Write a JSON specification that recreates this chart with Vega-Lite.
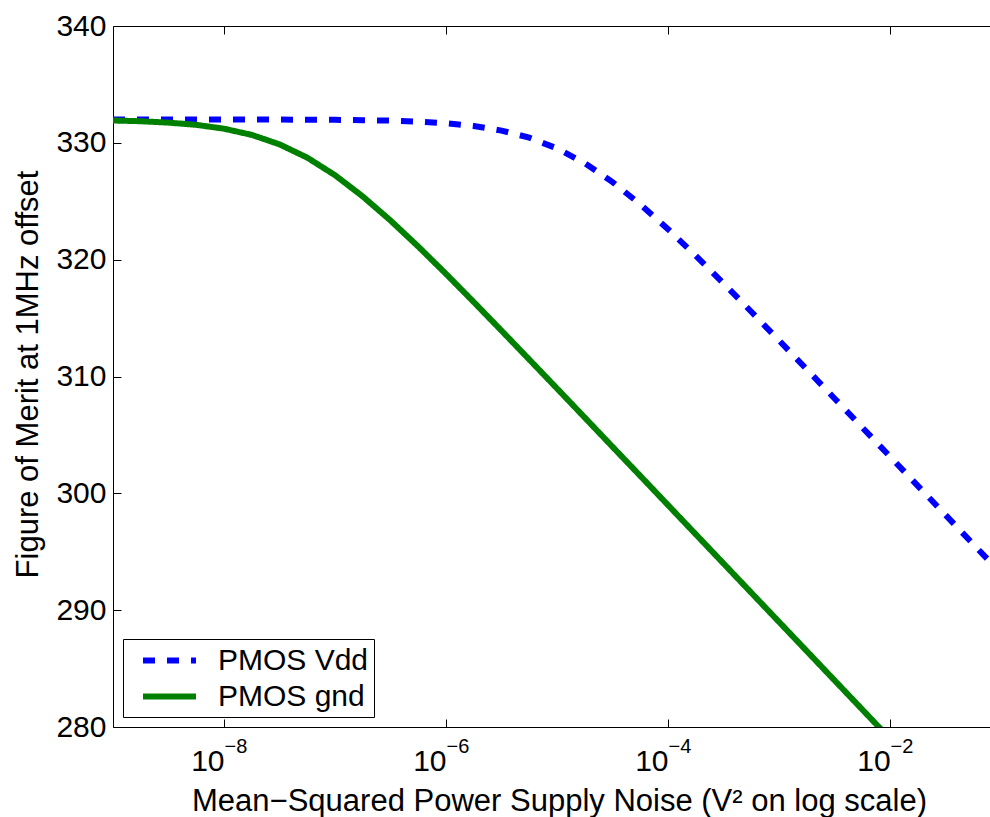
{
  "$schema": "https://vega.github.io/schema/vega-lite/v6.json",
  "autosize": {"type": "none"},
  "width": 877,
  "height": 701,
  "padding": {"left": 113, "top": 26, "right": 0, "bottom": 90},
  "background": "white",
  "config": {
    "view": {"stroke": null},
    "font": "Liberation Sans",
    "axis": {"grid": false, "domainColor": "black", "tickColor": "black", "labelColor": "black", "titleColor": "black", "labelFont": "Liberation Sans", "titleFont": "Liberation Sans", "titleFontWeight": "normal", "labelFlush": false, "labelOverlap": false},
    "legend": {"labelFont": "Liberation Sans", "labelColor": "black"}
  },
  "data": {"values": [
    {"x": 1e-9, "fom": 332.00, "series": "PMOS Vdd"},
    {"x": 1e-8, "fom": 332.00, "series": "PMOS Vdd"},
    {"x": 3.162e-8, "fom": 331.99, "series": "PMOS Vdd"},
    {"x": 1e-7, "fom": 331.97, "series": "PMOS Vdd"},
    {"x": 1.778e-7, "fom": 331.94, "series": "PMOS Vdd"},
    {"x": 3.162e-7, "fom": 331.90, "series": "PMOS Vdd"},
    {"x": 5.623e-7, "fom": 331.82, "series": "PMOS Vdd"},
    {"x": 1e-6, "fom": 331.68, "series": "PMOS Vdd"},
    {"x": 1.778e-6, "fom": 331.44, "series": "PMOS Vdd"},
    {"x": 3.162e-6, "fom": 331.05, "series": "PMOS Vdd"},
    {"x": 5.623e-6, "fom": 330.44, "series": "PMOS Vdd"},
    {"x": 1e-5, "fom": 329.52, "series": "PMOS Vdd"},
    {"x": 1.778e-5, "fom": 328.26, "series": "PMOS Vdd"},
    {"x": 3.162e-5, "fom": 326.64, "series": "PMOS Vdd"},
    {"x": 5.623e-5, "fom": 324.74, "series": "PMOS Vdd"},
    {"x": 1e-4, "fom": 322.61, "series": "PMOS Vdd"},
    {"x": 1.778e-4, "fom": 320.33, "series": "PMOS Vdd"},
    {"x": 3.162e-4, "fom": 317.97, "series": "PMOS Vdd"},
    {"x": 5.623e-4, "fom": 315.54, "series": "PMOS Vdd"},
    {"x": 1e-3, "fom": 313.08, "series": "PMOS Vdd"},
    {"x": 1.778e-3, "fom": 310.61, "series": "PMOS Vdd"},
    {"x": 3.162e-3, "fom": 308.12, "series": "PMOS Vdd"},
    {"x": 5.623e-3, "fom": 305.63, "series": "PMOS Vdd"},
    {"x": 1e-2, "fom": 303.14, "series": "PMOS Vdd"},
    {"x": 1.778e-2, "fom": 300.64, "series": "PMOS Vdd"},
    {"x": 3.162e-2, "fom": 298.14, "series": "PMOS Vdd"},
    {"x": 5.623e-2, "fom": 295.64, "series": "PMOS Vdd"},
    {"x": 7.943e-2, "fom": 294.14, "series": "PMOS Vdd"},
    {"x": 1e-9, "fom": 331.91, "series": "PMOS gnd"},
    {"x": 1.778e-9, "fom": 331.85, "series": "PMOS gnd"},
    {"x": 3.162e-9, "fom": 331.73, "series": "PMOS gnd"},
    {"x": 5.623e-9, "fom": 331.54, "series": "PMOS gnd"},
    {"x": 1e-8, "fom": 331.21, "series": "PMOS gnd"},
    {"x": 1.778e-8, "fom": 330.68, "series": "PMOS gnd"},
    {"x": 3.162e-8, "fom": 329.87, "series": "PMOS gnd"},
    {"x": 5.623e-8, "fom": 328.73, "series": "PMOS gnd"},
    {"x": 1e-7, "fom": 327.23, "series": "PMOS gnd"},
    {"x": 1.778e-7, "fom": 325.41, "series": "PMOS gnd"},
    {"x": 3.162e-7, "fom": 323.35, "series": "PMOS gnd"},
    {"x": 5.623e-7, "fom": 321.12, "series": "PMOS gnd"},
    {"x": 1e-6, "fom": 318.78, "series": "PMOS gnd"},
    {"x": 1.778e-6, "fom": 316.37, "series": "PMOS gnd"},
    {"x": 3.162e-6, "fom": 313.92, "series": "PMOS gnd"},
    {"x": 5.623e-6, "fom": 311.45, "series": "PMOS gnd"},
    {"x": 1e-5, "fom": 308.97, "series": "PMOS gnd"},
    {"x": 1.778e-5, "fom": 306.48, "series": "PMOS gnd"},
    {"x": 3.162e-5, "fom": 303.98, "series": "PMOS gnd"},
    {"x": 5.623e-5, "fom": 301.49, "series": "PMOS gnd"},
    {"x": 1e-4, "fom": 298.99, "series": "PMOS gnd"},
    {"x": 1.778e-4, "fom": 296.49, "series": "PMOS gnd"},
    {"x": 3.162e-4, "fom": 293.99, "series": "PMOS gnd"},
    {"x": 5.623e-4, "fom": 291.49, "series": "PMOS gnd"},
    {"x": 1e-3, "fom": 288.99, "series": "PMOS gnd"},
    {"x": 1.778e-3, "fom": 286.49, "series": "PMOS gnd"},
    {"x": 3.162e-3, "fom": 283.99, "series": "PMOS gnd"},
    {"x": 5.623e-3, "fom": 281.49, "series": "PMOS gnd"},
    {"x": 1e-2, "fom": 278.99, "series": "PMOS gnd"}
  ]},
  "layer": [
    {
      "mark": {"type": "line", "strokeWidth": 6, "clip": true, "strokeCap": "butt"},
      "encoding": {
        "x": {"field": "x", "type": "quantitative",
          "scale": {"type": "log", "domain": [1e-9, 0.07943], "nice": false},
          "axis": {"orient": "bottom", "values": [1e-8, 1e-6, 1e-4, 1e-2], "labelExpr": "'10'", "labelAlign": "right", "labelDx": 4, "labelBaseline": "alphabetic", "labelPadding": 51, "tickSize": -8, "labelFontSize": 30,
            "title": "Mean−Squared Power Supply Noise (V² on log scale)", "titleFontSize": 31, "titleX": 446, "titleY": 83, "titleBaseline": "alphabetic", "titleAlign": "center", "titleAnchor": null}},
        "y": {"field": "fom", "type": "quantitative",
          "scale": {"domain": [280, 340], "nice": false, "zero": false},
          "axis": {"orient": "left", "values": [280, 290, 300, 310, 320, 330, 340], "tickSize": -8, "labelPadding": 15, "labelFontSize": 30,
            "title": "Figure of Merit at 1MHz offset", "titleFontSize": 31, "titleX": -76, "titleY": 348, "titleAngle": -90, "titleBaseline": "alphabetic", "titleAlign": "center"}},
        "color": {"field": "series", "type": "nominal",
          "scale": {"domain": ["PMOS Vdd", "PMOS gnd"], "range": ["#0000ff", "#008000"]},
          "legend": {"title": null, "orient": "none", "legendX": 10, "legendY": 613, "strokeColor": "black", "fillColor": "white", "padding": 5, "symbolType": "M-2,0H2", "symbolSize": 702, "symbolStrokeWidth": 6, "symbolOffset": 25, "labelOffset": 32, "labelFontSize": 30, "rowPadding": 4}},
        "strokeDash": {"field": "series", "type": "nominal",
          "scale": {"domain": ["PMOS Vdd", "PMOS gnd"], "range": [[12, 12], [1, 0]]},
          "legend": {"title": null, "orient": "none", "legendX": 10, "legendY": 613, "strokeColor": "black", "fillColor": "white", "padding": 5, "symbolType": "M-2,0H2", "symbolSize": 702, "symbolStrokeWidth": 6, "symbolOffset": 25, "labelOffset": 32, "labelFontSize": 30, "rowPadding": 4}}
      }
    },
    {
      "mark": {"type": "rule", "opacity": 0, "clip": true},
      "encoding": {
        "x": {"field": "x", "type": "quantitative",
          "scale": {"type": "log", "domain": [1e-9, 0.07943], "nice": false},
          "axis": {"orient": "bottom", "values": [1e-8, 1e-6, 1e-4, 1e-2], "labelExpr": "'−' + round(-log(datum.value)/LN10)", "labelAlign": "left", "labelDx": 4, "labelBaseline": "alphabetic", "labelPadding": 25, "ticks": false, "tickSize": 0, "domain": false, "labelFontSize": 20, "title": null}}
      }
    },
    {
      "mark": {"type": "rule", "opacity": 0, "clip": true},
      "encoding": {
        "x": {"field": "x", "type": "quantitative",
          "scale": {"type": "log", "domain": [1e-9, 0.07943], "nice": false},
          "axis": {"orient": "top", "values": [1e-8, 1e-6, 1e-4, 1e-2], "labels": false, "tickSize": -8, "domain": true, "title": null}}
      }
    }
  ],
  "resolve": {"axis": {"x": "independent"}}
}
